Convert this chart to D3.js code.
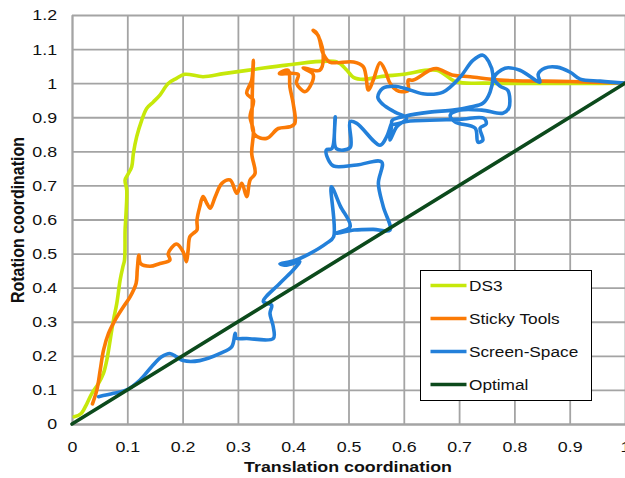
<!DOCTYPE html>
<html>
<head>
<meta charset="utf-8">
<script src="https://cdn.jsdelivr.net/npm/d3@7"></script>
<style>
  body { margin: 0; background: #fff; overflow: hidden; }
  svg { display: block; }
</style>
</head>
<body>
<div id="chart"></div>
<script>
// tick values
const xTicks = [0, 0.1, 0.2, 0.3, 0.4, 0.5, 0.6, 0.7, 0.8, 0.9, 1];
const yTicks = [0, 0.1, 0.2, 0.3, 0.4, 0.5, 0.6, 0.7, 0.8, 0.9, 1, 1.1, 1.2];

// trajectories [translation, rotation]
const ds3 = [
  [0.004, 0.021], [0.016, 0.03], [0.027, 0.06], [0.036, 0.09], [0.048, 0.119],
  [0.057, 0.149], [0.063, 0.188], [0.069, 0.246], [0.075, 0.305], [0.081, 0.354],
  [0.087, 0.422], [0.092, 0.461], [0.095, 0.481], [0.096, 0.569], [0.097, 0.598],
  [0.099, 0.686], [0.096, 0.716], [0.102, 0.735], [0.108, 0.755], [0.111, 0.794],
  [0.117, 0.843], [0.126, 0.891], [0.135, 0.926], [0.147, 0.945], [0.159, 0.965],
  [0.174, 0.999], [0.189, 1.014], [0.204, 1.026], [0.237, 1.019], [0.274, 1.028],
  [0.328, 1.04], [0.388, 1.053], [0.479, 1.062], [0.497, 1.038], [0.509, 1.017],
  [0.527, 1.011], [0.557, 1.019], [0.6, 1.026], [0.659, 1.038], [0.695, 1.004],
  [0.75, 1.0], [1.0, 1.0]
];

const sticky = [
  [0.037, 0.059], [0.045, 0.1], [0.051, 0.158], [0.057, 0.217], [0.066, 0.266],
  [0.078, 0.305], [0.093, 0.344], [0.105, 0.373], [0.116, 0.413], [0.118, 0.452],
  [0.121, 0.496], [0.124, 0.471], [0.141, 0.463], [0.159, 0.471], [0.177, 0.481],
  [0.174, 0.5], [0.189, 0.528], [0.201, 0.505], [0.207, 0.476], [0.21, 0.51],
  [0.213, 0.549], [0.219, 0.559], [0.226, 0.569], [0.226, 0.598], [0.231, 0.637],
  [0.237, 0.667], [0.244, 0.647], [0.25, 0.633], [0.259, 0.667], [0.271, 0.706],
  [0.286, 0.716], [0.298, 0.677], [0.307, 0.706], [0.316, 0.667], [0.322, 0.716],
  [0.331, 0.735], [0.325, 0.794], [0.328, 0.862], [0.322, 0.901], [0.328, 0.95],
  [0.316, 0.97], [0.325, 1.009], [0.328, 1.067], [0.326, 0.95], [0.33, 0.85],
  [0.352, 0.838], [0.373, 0.867], [0.394, 0.872], [0.403, 0.882], [0.4, 0.94],
  [0.394, 0.989], [0.391, 1.038], [0.375, 1.028], [0.409, 1.026], [0.406, 1.0],
  [0.421, 0.975], [0.43, 0.989], [0.436, 1.026], [0.418, 1.045], [0.448, 1.038],
  [0.454, 1.09], [0.442, 1.148], [0.436, 1.155], [0.445, 1.14], [0.454, 1.087],
  [0.466, 1.062], [0.509, 1.062], [0.527, 1.048], [0.536, 0.98], [0.545, 1.01],
  [0.557, 1.06], [0.566, 1.038], [0.575, 1.0], [0.587, 0.979], [0.596, 0.975],
  [0.608, 0.979], [0.608, 1.009], [0.617, 1.009], [0.647, 1.038], [0.659, 1.043],
  [0.69, 1.023], [0.72, 1.019], [0.774, 1.009], [0.9, 1.005], [1.0, 1.0]
];

const screenSpace = [
  [0.048, 0.08], [0.075, 0.09], [0.099, 0.1], [0.123, 0.129], [0.144, 0.168],
  [0.162, 0.197], [0.177, 0.207], [0.189, 0.197], [0.201, 0.186], [0.231, 0.186],
  [0.268, 0.207], [0.289, 0.227], [0.295, 0.266], [0.297, 0.252], [0.316, 0.251],
  [0.364, 0.251], [0.364, 0.285], [0.358, 0.325], [0.361, 0.349], [0.346, 0.359],
  [0.376, 0.413], [0.4, 0.452], [0.412, 0.476], [0.388, 0.466], [0.376, 0.47],
  [0.4, 0.478], [0.43, 0.5], [0.46, 0.53], [0.473, 0.549], [0.469, 0.696],
  [0.485, 0.64], [0.503, 0.579], [0.478, 0.56], [0.51, 0.569], [0.545, 0.571],
  [0.575, 0.569], [0.563, 0.637], [0.554, 0.706], [0.56, 0.769], [0.515, 0.76],
  [0.473, 0.757], [0.464, 0.774], [0.46, 0.804], [0.47, 0.808], [0.476, 0.901],
  [0.478, 0.808], [0.503, 0.811], [0.503, 0.887], [0.515, 0.882], [0.557, 0.818],
  [0.569, 0.843], [0.578, 0.882], [0.575, 0.833], [0.587, 0.872], [0.605, 0.897],
  [0.584, 0.915], [0.562, 0.938], [0.553, 0.959], [0.562, 0.985], [0.584, 0.991],
  [0.611, 0.98], [0.638, 0.968], [0.671, 0.974], [0.702, 1.018], [0.725, 1.067],
  [0.743, 1.082], [0.754, 1.062], [0.761, 1.026], [0.756, 0.974], [0.743, 0.941],
  [0.72, 0.93], [0.689, 0.921], [0.647, 0.915], [0.602, 0.903], [0.579, 0.891],
  [0.579, 0.88], [0.611, 0.889], [0.647, 0.891], [0.702, 0.894], [0.745, 0.897],
  [0.749, 0.88], [0.738, 0.868], [0.743, 0.833], [0.734, 0.827], [0.729, 0.868],
  [0.693, 0.886], [0.684, 0.906], [0.702, 0.921], [0.741, 0.921], [0.779, 0.912],
  [0.79, 0.927], [0.788, 0.979], [0.774, 0.991], [0.763, 1.015], [0.783, 1.044],
  [0.81, 1.038], [0.846, 1.003], [0.843, 1.026], [0.855, 1.044], [0.877, 1.047],
  [0.901, 1.032], [0.919, 1.012], [0.955, 1.006], [1.0, 1.0]
];

const optimal = [[0, 0], [1, 1]];

const seriesNames = ['DS3', 'Sticky Tools', 'Screen-Space', 'Optimal'];
const seriesColors = ['#c6e80a', '#fb7a05', '#2380da', '#0c4a1c'];

const W = 625, H = 478;
const margin = { top: 15, right: 0, bottom: 54, left: 72 };
// the original text is a little wider than it is tall
const stretch = 'scale(1.15,1)';

const svg = d3.select('#chart').append('svg')
  .attr('width', W).attr('height', H)
  .style('font-family', '"Liberation Sans", Arial, sans-serif');

const x = d3.scaleLinear().domain([0, 1]).range([margin.left, W - margin.right]);
const y = d3.scaleLinear().domain([0, 1.2]).range([H - margin.bottom, margin.top]);

const fmt = (d) => String(+d.toFixed(1));

// grid + axes
const xAxis = svg.append('g')
  .attr('transform', `translate(0,${y(0)})`)
  .call(d3.axisBottom(x).tickValues(xTicks).tickFormat(fmt)
    .tickSizeInner(-(y(0) - y(1.2))).tickSizeOuter(0).tickPadding(17));

const yAxis = svg.append('g')
  .attr('transform', `translate(${x(0)},0)`)
  .call(d3.axisLeft(y).tickValues(yTicks).tickFormat(fmt)
    .tickSizeInner(-(x(1) - x(0))).tickSizeOuter(0).tickPadding(13));

[xAxis, yAxis].forEach((g) => {
  g.selectAll('.tick line').attr('stroke', '#a4a4a4').attr('stroke-width', 1.8);
  g.select('.domain').attr('stroke', '#a4a4a4').attr('stroke-width', 1.8);
  g.selectAll('.tick text')
    .attr('fill', '#111')
    .attr('transform', stretch)
    .style('font-size', '15.5px');
});

// axis titles
svg.append('text')
  .attr('transform', `translate(348,472) ${stretch}`)
  .attr('text-anchor', 'middle')
  .attr('fill', '#111')
  .style('font-size', '15.5px').style('font-weight', 'bold')
  .text('Translation coordination');

svg.append('text')
  .attr('transform', `translate(24,220) ${stretch} rotate(-90)`)
  .attr('text-anchor', 'middle')
  .attr('fill', '#111')
  .style('font-size', '16px').style('font-weight', 'bold')
  .text('Rotation coordination');

// lines
const line = d3.line()
  .x((d) => x(d[0]))
  .y((d) => y(d[1]))
  .curve(d3.curveCatmullRom.alpha(0.5));

const allSeries = [ds3, sticky, screenSpace, optimal];

svg.append('g').selectAll('path')
  .data(allSeries)
  .join('path')
  .attr('d', line)
  .attr('fill', 'none')
  .attr('stroke', (d, i) => seriesColors[i])
  .attr('stroke-width', 3.6)
  .attr('stroke-linejoin', 'round')
  .attr('stroke-linecap', 'round');

// legend
const legend = svg.append('g').attr('transform', 'translate(420.5,270.5)');
legend.append('rect')
  .attr('width', 171).attr('height', 130)
  .attr('fill', '#fff').attr('stroke', '#000').attr('stroke-width', 1);

const item = legend.selectAll('.item')
  .data(seriesNames)
  .join('g')
  .attr('class', 'item')
  .attr('transform', (d, i) => `translate(0,${15 + i * 33})`);

item.append('line')
  .attr('x1', 10).attr('x2', 46)
  .attr('stroke', (d, i) => seriesColors[i])
  .attr('stroke-width', 3.6);

item.append('text')
  .attr('transform', `translate(48.5,0) ${stretch}`)
  .attr('dy', '0.35em')
  .style('font-size', '15px')
  .attr('fill', '#111')
  .text((d) => d);
</script>
</body>
</html>
